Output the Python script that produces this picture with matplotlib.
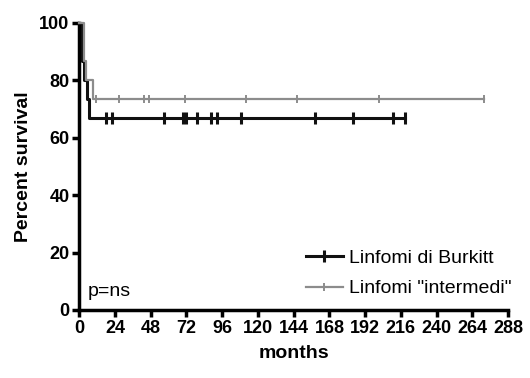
import numpy as np
import matplotlib
matplotlib.use("Agg")
import matplotlib.pyplot as plt
from matplotlib.lines import Line2D

plt.rcParams['font.family'] = ['Liberation Sans', 'DejaVu Sans']

# Kaplan-Meier data (months, percent survival)
burkitt_event_months = [1.5, 3.5, 5.0, 6.5]
burkitt_survival = [86.7, 80.0, 73.3, 66.7]
burkitt_censored = [18, 22, 57, 69.5, 72, 79, 88.5, 92.5, 108.5, 158.5, 184, 210.5, 219]

intermedi_event_months = [3.0, 4.5, 9.0]
intermedi_survival = [86.7, 80.0, 73.3]
intermedi_censored = [11.5, 26.5, 43.5, 47, 71, 112, 146.5, 201.5, 272]

series_labels = ['Linfomi di Burkitt', 'Linfomi "intermedi"']
x_ticks = list(range(0, 289, 24))
y_ticks = [0, 20, 40, 60, 80, 100]

BLACK = '#111111'
GRAY = '#8c8c8c'


def km_curve(event_t, surv, end_t):
    t = [0.0] + list(event_t) + [end_t]
    s = [100.0] + list(surv) + [surv[-1]]
    return t, s


def level_at(event_t, surv, t):
    lvl = 100.0
    for et, sv in zip(event_t, surv):
        if t >= et:
            lvl = sv
    return lvl


fig = plt.figure(figsize=(5.30, 3.78), dpi=100)
ax = fig.add_axes([0.1496, 0.1799, 0.809, 0.760])

curves = [
    (burkitt_event_months, burkitt_survival, burkitt_censored, BLACK, 2.2, 9, 2.2),
    (intermedi_event_months, intermedi_survival, intermedi_censored, GRAY, 1.6, 6, 1.4),
]

handles = []
for (et, sv, cens, color, lw, ms, mew), label in zip(curves, series_labels):
    t, s = km_curve(et, sv, max(cens))
    ax.step(t, s, where='post', color=color, lw=lw, clip_on=False, zorder=3)
    lv = [level_at(et, sv, c) for c in cens]
    ax.plot(cens, lv, linestyle='none', marker='|', ms=ms, mew=mew,
            color=color, clip_on=False, zorder=3)
    handles.append(Line2D([0], [0], color=color, lw=lw, marker='|', ms=ms, mew=mew))

ax.set_xlim(0, 288)
ax.set_ylim(0, 100)
ax.set_xticks(x_ticks)
ax.set_yticks(y_ticks)

for side in ('top', 'right'):
    ax.spines[side].set_visible(False)
for side in ('left', 'bottom'):
    ax.spines[side].set_linewidth(2.5)
    ax.spines[side].set_color('black')
ax.tick_params(axis='both', direction='out', length=5, width=2.5, pad=2,
               labelsize=13)
for lab in ax.get_xticklabels() + ax.get_yticklabels():
    lab.set_fontweight('bold')

ax.set_xlabel('months', fontsize=14, fontweight='bold', labelpad=6)
ax.set_ylabel('Percent survival', fontsize=14, fontweight='bold', labelpad=5)

ax.text(5.5, 6.3, 'p=ns', fontsize=14, va='center', ha='left')

fig.legend(handles, series_labels, loc='upper left',
           bbox_to_anchor=(306 / 530, 1 - 249 / 378), frameon=False,
           fontsize=14, handlelength=1.9, handletextpad=0.3,
           borderpad=0, borderaxespad=0, labelspacing=0.68)

fig.savefig('out.png', dpi=100)
